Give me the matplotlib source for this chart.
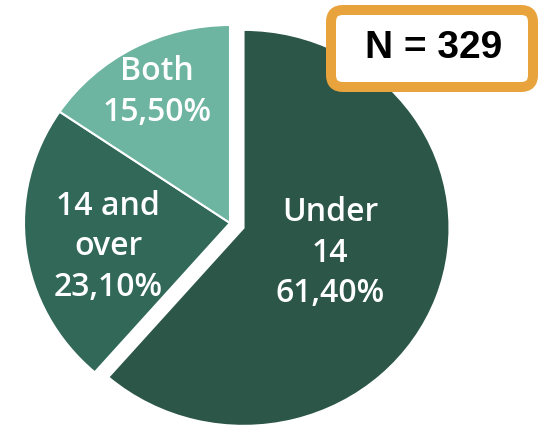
import matplotlib.pyplot as plt
from matplotlib.patches import FancyBboxPatch

labels = ['Under\n14', '14 and\nover', 'Both']
shares = [61.4, 23.1, 15.5]
colors = ['#2b5648', '#316858', '#6db5a0']
explode = [0.07, 0, 0]
label_pos = [(0.485, -0.152), (-0.592, -0.121), (-0.354, 0.662)]
n_text = 'N = 329'

fig = plt.figure(figsize=(5.39, 4.29), dpi=100)
ax = fig.add_axes([0, 0, 1, 1])

wedges, _ = ax.pie(shares, colors=colors, explode=explode, startangle=90,
                   counterclock=False, radius=1,
                   wedgeprops=dict(edgecolor='white', linewidth=1.5))
# picture is slightly wider than tall
ax.set_aspect('auto')
ax.set_xlim(-230 / 206, (539 - 230) / 206)
ax.set_ylim(-206 / 198, (429 - 206) / 198)
ax.axis('off')

for lab, val, (x, y) in zip(labels, shares, label_pos):
    txt = lab + '\n' + f'{val:.2f}'.replace('.', ',') + '%'
    ax.text(x, y, txt, ha='center', va='center', color='white',
            fontsize=23, family='Open Sans', fontweight='semibold',
            linespacing=1.3)

# N box, drawn in pixel coords
ax2 = fig.add_axes([0, 0, 1, 1])
ax2.set_xlim(0, 539)
ax2.set_ylim(429, 0)
ax2.axis('off')
box = FancyBboxPatch((331, 10), 202, 77, boxstyle='round,pad=0,rounding_size=12',
                     facecolor='white', edgecolor='#e8a33d', linewidth=7.2)
ax2.add_patch(box)
ax2.text(434, 48, n_text, ha='center', va='center', fontsize=28,
         fontweight='bold', family='Liberation Sans', color='black')

fig.savefig('out.png', dpi=100)
